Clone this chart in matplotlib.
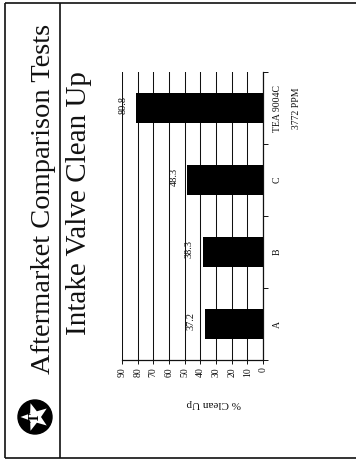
import matplotlib
matplotlib.use("Agg")
import matplotlib.pyplot as plt
from matplotlib.patches import Circle, Polygon
from matplotlib.lines import Line2D
import matplotlib.transforms as mtransforms
import numpy as np

# ---- data ----
categories = ["A", "B", "C", "TEA 9004C"]
category_notes = ["", "", "", "3772 PPM"]
clean_up_pct = [37.2, 38.3, 48.3, 80.8]
value_ticks = [0, 10, 20, 30, 40, 50, 60, 70, 80, 90]
title = "Aftermarket Comparison Tests"
subtitle = "Intake Valve Clean Up"
value_axis_label = "% Clean Up"

W, H = 356, 465
SERIF = ["Liberation Serif", "DejaVu Serif"]
INK = "#111111"

fig = plt.figure(figsize=(W / 100, H / 100), dpi=100)
fig.patch.set_facecolor("white")

# ---- chart (page is laid out sideways: values run right-to-left) ----
ax = fig.add_axes([122 / W, 1 - 360 / H, 141 / W, 288 / H])
pos = np.arange(len(categories))
ax.barh(pos, clean_up_pct, height=0.41, color="black", zorder=3)
ax.set_xlim(90, 0)
ax.set_ylim(-0.5, len(categories) - 0.5)

ax.set_xticks(value_ticks)
ax.set_xticklabels([str(v) for v in value_ticks], rotation=90,
                   fontsize=7, family=SERIF, color=INK)
ax.tick_params(axis="x", direction="out", length=3, width=0.7,
               color=INK, pad=2)
ax.xaxis.grid(True, color=INK, linewidth=0.75)
ax.set_axisbelow(True)

ax.set_yticks([])
ax.set_yticks(np.arange(len(categories) + 1) - 0.5, minor=True)
ax.yaxis.set_ticks_position("right")
ax.tick_params(axis="y", which="minor", direction="out", length=3.5,
               width=0.7, color=INK, labelright=False)

for side in ("top", "left"):
    ax.spines[side].set_visible(False)
for side in ("right", "bottom"):
    ax.spines[side].set_color(INK)
    ax.spines[side].set_linewidth(0.9)

# category labels beside the zero line
trans = mtransforms.blended_transform_factory(ax.transAxes, ax.transData)
for p, name, note in zip(pos, categories, category_notes):
    ax.text(1.10, p, name, transform=trans, rotation=90, ha="center",
            va="center", fontsize=7, family=SERIF, color=INK)
    if note:
        ax.text(1.24, p, note, transform=trans, rotation=90, ha="center",
                va="center", fontsize=7, family=SERIF, color=INK)

# value labels at the end of each bar
for p, v in zip(pos, clean_up_pct):
    ax.annotate(f"{v}", xy=(v, p), xytext=(-6.5, 2.5),
                textcoords="offset points", rotation=90, ha="right",
                va="center", fontsize=7.5, family=SERIF, color=INK)

# ---- page furniture drawn in pixel coordinates ----
page = fig.add_axes([0, 0, 1, 1], zorder=5)
page.set_xlim(0, W)
page.set_ylim(H, 0)
page.axis("off")
page.patch.set_alpha(0)

frame_kw = dict(color=INK, linewidth=1.2, solid_capstyle="butt")
page.add_line(Line2D([5, 5], [3, 458], **frame_kw))
page.add_line(Line2D([5, W], [3, 3], **frame_kw))
page.add_line(Line2D([5, W], [458, 458], **frame_kw))
page.add_line(Line2D([60, 60], [3, 458], **frame_kw))

page.text(44, 199, title, rotation=90, ha="center", va="center",
          fontsize=20.5, family=SERIF, color=INK)
page.text(79, 203, subtitle, rotation=90, ha="center", va="center",
          fontsize=21, family=SERIF, color=INK)

page.text(214, 403, value_axis_label, rotation=180, ha="center",
          va="center", fontsize=8, family=SERIF, color=INK)

# emblem: black disc, white star, black T
cx, cy, r = 35, 417, 17
page.add_patch(Circle((cx, cy), r, facecolor="black", edgecolor="black"))
ang = np.pi + np.arange(10) * np.pi / 5
rad = np.where(np.arange(10) % 2 == 0, 14.5, 6.0)
star = np.column_stack([cx + rad * np.cos(ang), cy + rad * np.sin(ang)])
page.add_patch(Polygon(star, closed=True, facecolor="white",
                       edgecolor="none"))
page.text(cx + 0.5, cy, "T", rotation=90, ha="center", va="center",
          fontsize=10, fontweight="bold", family=SERIF, color="black")

fig.savefig("out.png", dpi=100, facecolor="white")
